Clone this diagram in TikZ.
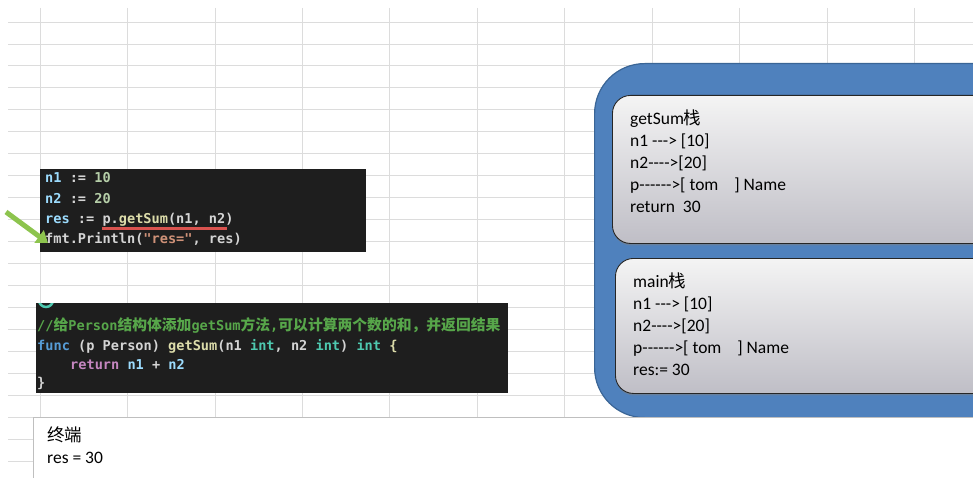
\documentclass[tikz,border=0pt]{standalone}
\usepackage{fontspec}
\setmainfont{Carlito}[Ligatures=TeXOff]
\setmonofont{DejaVu Sans Mono}
\newfontfamily\cjk{Noto Sans CJK SC}
\usepackage{tikz}
\usetikzlibrary{positioning,arrows.meta,shadows}

\definecolor{gridline}{HTML}{DCDCDC}
\definecolor{codebg}{HTML}{1E1E1E}
\definecolor{codefg}{HTML}{D4D4D4}
\definecolor{codevar}{HTML}{9CDCFE}
\definecolor{codenum}{HTML}{B5CEA8}
\definecolor{codefun}{HTML}{DCDCAA}
\definecolor{codestr}{HTML}{CE9178}
\definecolor{codekw}{HTML}{569CD6}
\definecolor{codetype}{HTML}{4EC9B0}
\definecolor{coderet}{HTML}{C586C0}
\definecolor{codecmt}{HTML}{57A64A}
\definecolor{memblue}{HTML}{4F81BD}
\definecolor{memedge}{HTML}{3A6596}
\definecolor{stacktop}{HTML}{F4F4F4}
\definecolor{stackbottom}{HTML}{BFBEC6}
\definecolor{pointgreen}{HTML}{8DC44E}
\definecolor{markred}{HTML}{D9534F}

\newcommand{\cvar}[1]{\textcolor{codevar}{#1}}
\newcommand{\cnum}[1]{\textcolor{codenum}{#1}}
\newcommand{\cfun}[1]{\textcolor{codefun}{#1}}
\newcommand{\cstr}[1]{\textcolor{codestr}{#1}}
\newcommand{\ckw}[1]{\textcolor{codekw}{#1}}
\newcommand{\ctype}[1]{\textcolor{codetype}{#1}}
\newcommand{\cret}[1]{\textcolor{coderet}{#1}}
\newcommand{\cmtzh}[1]{{\cjk\fontsize{14.8}{16}\selectfont #1}}

\begin{document}
\begin{tikzpicture}[
  x=1pt, y=-1pt,
  grid/.style={gridline, line width=0.8pt},
  codebox/.style={fill=codebg, anchor=north west, inner sep=0pt},
  code/.style={anchor=base west, inner sep=0pt, text=codefg, font=\ttfamily\bfseries\fontsize{13.6}{16}\selectfont},
  memory/.style={fill=memblue, draw=memedge, line width=1.2pt, rounded corners=50pt, anchor=north west, minimum width=440pt, minimum height=354pt},
  stackbox/.style={draw=black!85, line width=0.9pt, rounded corners=18pt, top color=stacktop, bottom color=stackbottom,
    drop shadow={shadow xshift=0.5pt, shadow yshift=-2pt, opacity=0.5}, anchor=north west, minimum width=420pt},
  stacktext/.style={anchor=base west, align=left, inner sep=0pt, font=\fontsize{17.5}{22}\selectfont},
  term/.style={draw=black!25, fill=white, line width=0.9pt, anchor=north west, minimum width=1000pt, minimum height=80pt},
  pointer/.style={-{Triangle[width=15pt,length=11pt]}, line width=5pt, pointgreen},
  underline/.style={markred, line width=2.5pt}
]
\useasboundingbox (0,0) rectangle (973,478);
\clip (0,0) rectangle (973,478);

% sheet grid
\foreach \r in {0,...,20}
  \draw[grid] (8,{22+21.95*\r}) -- (973,{22+21.95*\r});
\foreach \c in {0,...,10}
  \draw[grid] ({40+87.45*\c},8) -- ({40+87.45*\c},417);

% caller code
\node[codebox, minimum width=326pt, minimum height=83pt] (callbox) at (40,169) {};
\node[code] (setn1) at (45,183) {\cvar{n1} := \cnum{10}};
\node[code] (setn2) at (45,203.5) {\cvar{n2} := \cnum{20}};
\node[code] (resline) at (45,223) {\cvar{res} :=};
\node[code] (callexpr) at (102.3,223) {p.\cfun{getSum}(n1, n2)};
\node[code] (fmtline) at (45,243.5) {fmt.Println(\cstr{"res="}, res)};
\draw[underline] ([yshift=-2.5pt]callexpr.south west) -- ([xshift=-7pt,yshift=-2.5pt]callexpr.south east);
\coordinate (arrowtail) at (6,212);
\draw[pointer] (arrowtail) -- ([shift={(3,4)}]fmtline.west);

% method code
\node[codebox, minimum width=472pt, minimum height=90pt] (methodbox) at (36,303) {};
\begin{scope}
  \clip (methodbox.north west) rectangle (methodbox.south east);
  \draw[codetype, line width=2.5pt] (46,300) circle (7);
\end{scope}
\node[code, text=codecmt] (comment) at (37,330) {//\cmtzh{给}Person\cmtzh{结构体添加}getSum\cmtzh{方法},\cmtzh{可以计算两个数的和，并返回结果}};
\node[code] (signature) at (37,350) {\ckw{func} (p Person) \cfun{getSum}(n1 \ctype{int}, n2 \ctype{int}) \ctype{int} \cfun{\{}};
\node[code] (body) at (70,369) {\cret{return} \cvar{n1} + \cvar{n2}};
\node[code] (closing) at (37,387.5) {\}};

% memory and stacks (base = last line)
\node[memory] (memory) at (594,63) {};
\node[stackbox, minimum height=148pt] (getsumstack) at (612,95) {};
\node[stacktext] (getsumtext) at (630,213) {getSum{\cjk 栈}\\n1 ---> [10]\\n2---->[20]\\p------>[ tom\ \ \ \ ] Name\\return\ \ 30};
\node[stackbox, minimum height=135pt] (mainstack) at (615,258) {};
\node[stacktext] (maintext) at (633,375) {main{\cjk 栈}\\n1 ---> [10]\\n2---->[20]\\p------>[ tom\ \ \ \ ] Name\\res:= 30};

% terminal
\node[term] (terminal) at (33,417) {};
\node[stacktext] (output) at (47,463) {{\cjk 终端}\\res = 30};
\end{tikzpicture}
\end{document}
